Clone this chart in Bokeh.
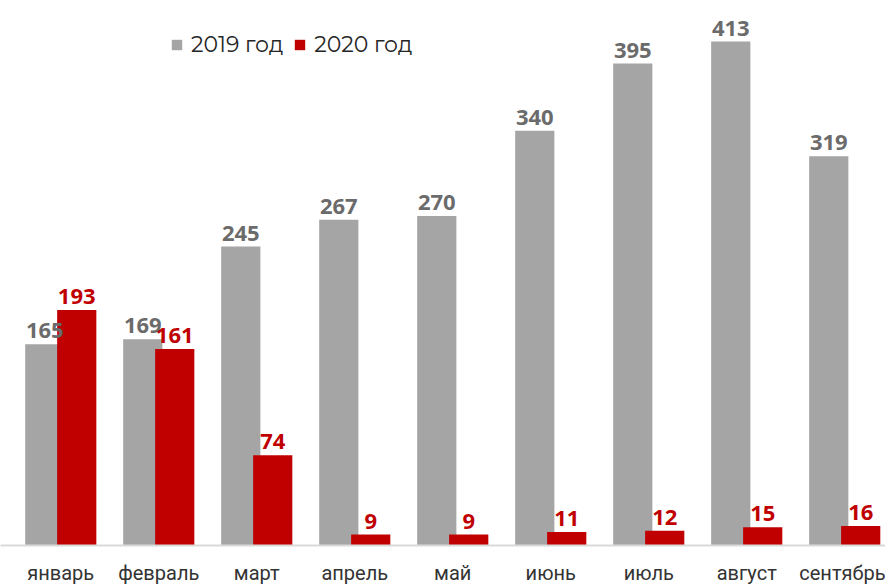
from bokeh.plotting import figure
from bokeh.models import ColumnDataSource, FixedTicker, Legend, LegendItem
from bokeh.transform import dodge
from bokeh.core.properties import value
from bokeh.embed import file_html
from bokeh.resources import INLINE

months = ["январь", "февраль", "март", "апрель", "май", "июнь", "июль", "август", "сентябрь"]
v2019 = [165, 169, 245, 267, 270, 340, 395, 413, 319]
v2020 = [193, 161, 74, 9, 9, 11, 12, 15, 16]
series_names = ["2019 год", "2020 год"]

GRAY = "#A6A5A5"
RED = "#C00000"

idx = list(range(len(months)))
src = ColumnDataSource(dict(
    x=idx, v2019=v2019, v2020=v2020,
    l2019=[str(v) for v in v2019], l2020=[str(v) for v in v2020],
))

p = figure(frame_width=885, frame_height=545, output_backend="svg", toolbar_location=None,
           x_range=(-0.615, 8.416), y_range=(0, 446.7),
           min_border_left=0, min_border_right=0, min_border_top=0, min_border_bottom=0)

OFF = 0.163
W = 0.40
r1 = p.vbar(x=dodge("x", -OFF), top="v2019", width=W, source=src, color=GRAY, line_color=None)
r2 = p.vbar(x=dodge("x", OFF), top="v2020", width=W, source=src, color=RED, line_color=None)

p.text(x=dodge("x", -OFF), y="v2019", text="l2019", source=src, text_align="center",
       text_baseline="bottom", y_offset=-6, text_font=value("Open Sans"),
       text_font_style="bold", text_font_size="22px", text_color="#6B6B6B")
p.text(x=dodge("x", OFF), y="v2020", text="l2020", source=src, text_align="center",
       text_baseline="bottom", y_offset=-6, text_font=value("Open Sans"),
       text_font_style="bold", text_font_size="22px", text_color=RED)

legend = Legend(items=[LegendItem(label=series_names[0], renderers=[r1]),
                       LegendItem(label=series_names[1], renderers=[r2])],
                orientation="horizontal", location=(170, 487),
                glyph_width=13, glyph_height=13, label_standoff=8, spacing=10,
                padding=0, margin=0, border_line_color=None, background_fill_alpha=0,
                label_text_font="Montserrat, Open Sans", label_text_font_size="22px",
                label_text_color="#262626")
p.add_layout(legend)

p.xaxis.ticker = FixedTicker(ticks=idx)
p.xaxis.major_label_overrides = {i: m for i, m in enumerate(months)}
p.xaxis.major_label_text_font = "Roboto"
p.xaxis.major_label_text_font_size = "20px"
p.xaxis.major_label_text_color = "#333333"
p.xaxis.major_label_standoff = 15
p.xaxis.major_tick_out = 0
p.xaxis.major_tick_line_color = None
p.xaxis.minor_tick_line_color = None
p.xaxis.axis_line_color = "#D9D9D9"
p.xaxis.axis_line_width = 2
p.yaxis.visible = False
p.xgrid.grid_line_color = None
p.ygrid.grid_line_color = None
p.outline_line_color = None

open("out.html", "w").write(file_html(p, INLINE))
